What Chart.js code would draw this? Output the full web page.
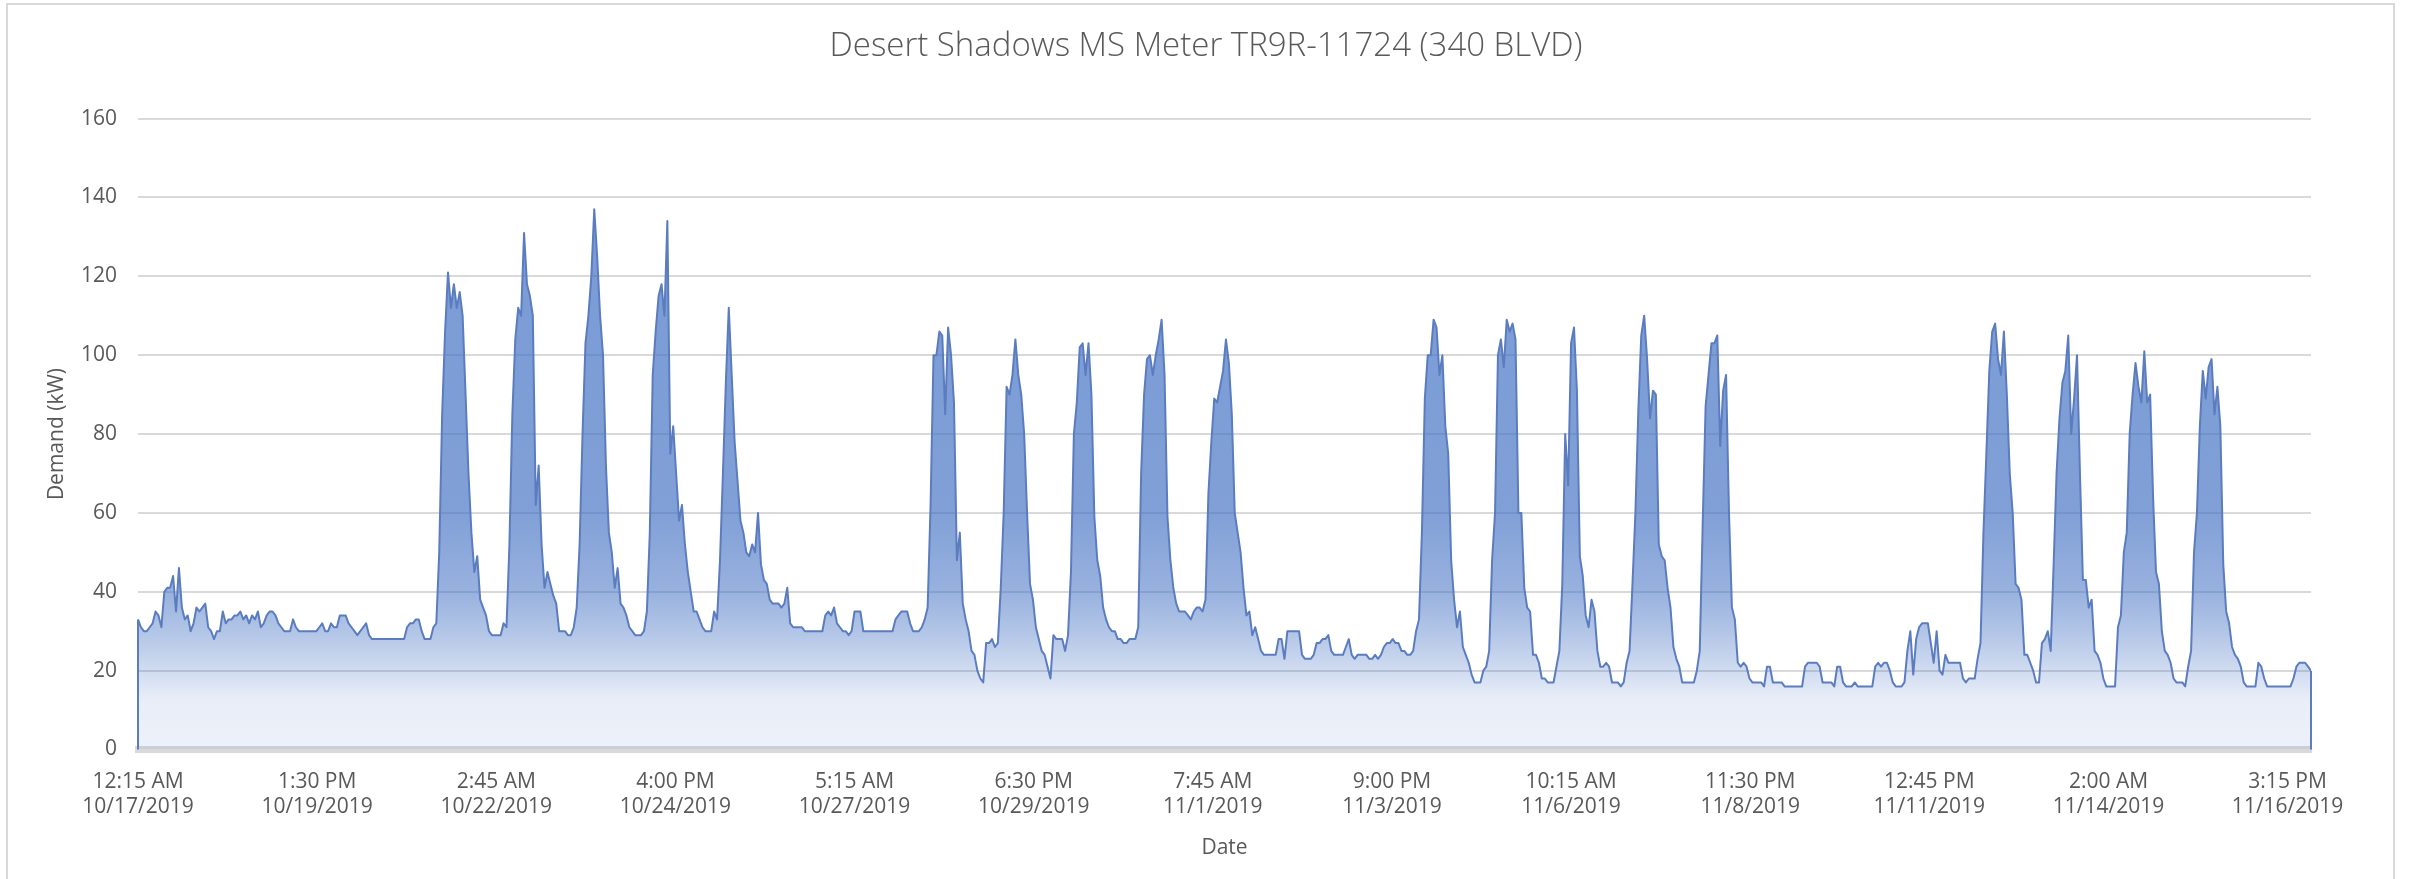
<!DOCTYPE html>
<html><head><meta charset="utf-8">
<script src="https://cdn.jsdelivr.net/npm/chart.js@4.4.1/dist/chart.umd.min.js"></script>
<style>html,body{margin:0;padding:0;background:#fff;overflow:hidden}#wrap{width:2412px;height:879px}</style>
</head><body><div id="wrap"><canvas id="c" width="2412" height="879"></canvas></div>
<script>
const chartTitle = 'Desert Shadows MS Meter TR9R-11724 (340 BLVD)';
const yAxisTitle = 'Demand (kW)';
const xAxisTitle = 'Date';
const tickTimes = ['12:15 AM','1:30 PM','2:45 AM','4:00 PM','5:15 AM','6:30 PM','7:45 AM','9:00 PM','10:15 AM','11:30 PM','12:45 PM','2:00 AM','3:15 PM'];
const tickDates = ['10/17/2019','10/19/2019','10/22/2019','10/24/2019','10/27/2019','10/29/2019','11/1/2019','11/3/2019','11/6/2019','11/8/2019','11/11/2019','11/14/2019','11/16/2019'];
const tickIndex = [0,245,490,735,980,1225,1470,1715,1960,2205,2450,2695,2940]; // 15-minute reading number of each labelled category
const readingsPerHour = 4;

// Demand (kW), one value per hour of each day
const oct17 = [33,31,30,30,31,32,35,34,31,40,41,41,44,35,46,36,33,34,30,32,36,35,36,37];
const oct18 = [31,30,28,30,30,35,32,33,33,34,34,35,33,34,32,34,33,35,31,32,34,35,35,34];
const oct19 = [32,31,30,30,30,33,31,30,30,30,30,30,30,30,31,32,30,30,32,31,31,34,34,34];
const oct20 = [32,31,30,29,30,31,32,29,28,28,28,28,28,28,28,28,28,28,28,28,31,32,32,33];
const oct21 = [33,30,28,28,28,31,32,50,85,106,121,112,118,112,116,110,90,70,55,45,49,38,36,34];
const oct22 = [30,29,29,29,29,32,31,52,85,104,112,110,131,118,115,110,62,72,52,41,45,42,39,37];
const oct23 = [30,30,30,29,29,31,36,52,80,103,110,120,137,125,110,100,72,55,50,41,46,37,36,34];
const oct24 = [31,30,29,29,29,30,35,55,95,106,115,118,110,134,75,82,70,58,62,52,45,40,35,35];
const oct25 = [33,31,30,30,30,35,33,48,70,93,112,95,78,68,58,55,50,49,52,50,60,47,43,42];
const oct26 = [38,37,37,37,36,37,41,32,31,31,31,31,30,30,30,30,30,30,30,34,35,34,36,32];
const oct27 = [31,30,30,29,30,35,35,35,30,30,30,30,30,30,30,30,30,30,30,33,34,35,35,35];
const oct28 = [32,30,30,30,31,33,36,62,100,100,106,105,85,107,100,88,48,55,37,33,30,25,24,20];
const oct29 = [18,17,27,27,28,26,27,41,60,92,90,95,104,95,90,80,60,42,38,31,28,25,24,21];
const oct30 = [18,29,28,28,28,25,29,45,80,88,102,103,95,103,90,59,48,44,36,33,31,30,30,28];
const oct31 = [28,27,27,28,28,28,31,70,90,99,100,95,100,104,109,95,59,48,41,37,35,35,35,34];
const nov01 = [33,35,36,36,35,38,65,78,89,88,92,96,104,98,85,60,55,50,41,34,35,29,31,28];
const nov02 = [25,24,24,24,24,24,28,28,23,30,30,30,30,30,24,23,23,23,24,27,27,28,28,29];
const nov03 = [25,24,24,24,24,26,28,24,23,24,24,24,24,23,23,24,23,24,26,27,27,28,27,27];
const nov04 = [25,25,24,24,25,30,33,55,89,100,100,109,107,95,100,82,75,48,38,31,35,26,24,22];
const nov05 = [19,17,17,17,20,21,25,48,60,100,104,97,109,106,108,104,60,60,41,36,35,24,24,22];
const nov06 = [18,18,17,17,17,21,25,42,80,67,103,107,91,49,44,34,31,38,35,25,21,21,22,21];
const nov07 = [17,17,17,16,17,22,25,42,60,86,105,110,99,84,91,90,52,49,48,41,36,26,23,21];
const nov08 = [17,17,17,17,17,20,25,57,87,95,103,103,105,77,91,95,60,36,33,22,21,22,21,18];
const nov09 = [17,17,17,17,16,21,21,17,17,17,17,16,16,16,16,16,16,16,21,22,22,22,22,21];
const nov10 = [17,17,17,17,16,21,21,17,16,16,16,17,16,16,16,16,16,16,21,22,21,22,22,20];
const nov11 = [17,16,16,16,17,25,30,19,28,31,32,32,32,27,22,30,20,19,24,22,22,22,22,22];
const nov12 = [18,17,18,18,18,23,27,55,75,96,106,108,99,95,106,90,70,60,42,41,38,24,24,22];
const nov13 = [20,17,17,27,28,30,25,47,70,84,93,96,105,80,89,100,70,43,43,36,38,25,24,22];
const nov14 = [18,16,16,16,16,31,34,50,55,80,90,98,92,88,101,88,90,64,45,42,30,25,24,22];
const nov15 = [18,17,17,17,16,21,25,50,60,82,96,89,97,99,85,92,82,47,35,32,26,24,23,21];
const nov16 = [17,16,16,16,16,22,21,18,16,16,16,16,16,16,16,16,16,18,21,22,22,22,21,20];

const demand = [].concat(oct17,oct18,oct19,oct20,oct21,oct22,oct23,oct24,oct25,oct26,oct27,oct28,oct29,oct30,oct31,
  nov01,nov02,nov03,nov04,nov05,nov06,nov07,nov08,nov09,nov10,nov11,nov12,nov13,nov14,nov15,nov16);
const points = demand.map((v, i) => ({x: i * readingsPerHour, y: v}));

const FONT = "'Open Sans', 'Noto Sans', sans-serif";
const TEXT = '#595959';
const LINE = '#5b7cbf';

function areaFill(context) {
  const {ctx, chartArea} = context.chart;
  if (!chartArea) return 'rgba(68,114,196,0.4)';
  const g = ctx.createLinearGradient(0, chartArea.top, 0, chartArea.bottom);
  g.addColorStop(0, 'rgba(68,114,196,0.72)');
  g.addColorStop(0.62, 'rgba(68,114,196,0.68)');
  g.addColorStop(0.75, 'rgba(68,114,196,0.55)');
  g.addColorStop(0.81, 'rgba(68,114,196,0.42)');
  g.addColorStop(0.875, 'rgba(68,114,196,0.25)');
  g.addColorStop(0.92, 'rgba(68,114,196,0.12)');
  g.addColorStop(1, 'rgba(68,114,196,0.10)');
  return g;
}

const frame = {
  id: 'frame',
  beforeDraw(chart) {
    const {ctx, width, height} = chart;
    ctx.save();
    ctx.fillStyle = '#ffffff';
    ctx.fillRect(0, 0, width, height);
    ctx.strokeStyle = '#d9d9d9';
    ctx.lineWidth = 2;
    ctx.strokeRect(7, 4, 2387, height + 20);
    ctx.restore();
  }
};
const areaEdges = {
  id: 'areaEdges',
  afterDatasetsDraw(chart) {
    const pts = chart.getDatasetMeta(0).data;
    if (!pts.length) return;
    const y0 = chart.scales.y.getPixelForValue(0);
    const {ctx} = chart;
    ctx.save();
    ctx.strokeStyle = LINE;
    ctx.lineWidth = 2;
    [pts[0], pts[pts.length - 1]].forEach(p => {
      ctx.beginPath(); ctx.moveTo(p.x, p.y); ctx.lineTo(p.x, y0); ctx.stroke();
    });
    ctx.restore();
  }
};

new Chart(document.getElementById('c'), {
  type: 'line',
  data: {datasets: [{
    label: yAxisTitle, data: points, borderColor: LINE, borderWidth: 2, pointRadius: 0,
    fill: 'origin', backgroundColor: areaFill, tension: 0, borderJoinStyle: 'round'
  }]},
  options: {
    responsive: false, animation: false, events: [],
    layout: {padding: 0},
    plugins: {
      legend: {display: false}, tooltip: {enabled: false},
      title: {display: true, text: chartTitle, color: TEXT,
        font: {family: FONT, size: 33, weight: 300}, padding: {top: 27, bottom: 52}}
    },
    scales: {
      x: {
        type: 'linear', min: 0, max: (demand.length - 1) * readingsPerHour,
        afterBuildTicks: s => { s.ticks = tickIndex.map(v => ({value: v})); },
        afterFit: s => { s.height = 129.5; },
        grid: {display: false, drawTicks: false},
        border: {display: true, color: '#d9d9d9', width: 7},
        ticks: {autoSkip: false, maxRotation: 0, minRotation: 0, padding: 20, color: TEXT,
          font: {family: FONT, size: 21}, callback: (v, i) => [tickTimes[i], tickDates[i]]},
        title: {display: true, text: xAxisTitle, color: TEXT, font: {family: FONT, size: 21},
          padding: {top: 0, bottom: 18}}
      },
      y: {
        min: 0, max: 160,
        afterFit: s => { s.width = 138; },
        ticks: {stepSize: 20, padding: 21, color: TEXT, font: {family: FONT, size: 21}},
        grid: {color: '#d9d9d9', lineWidth: 2, drawTicks: false},
        border: {display: false},
        title: {display: true, text: yAxisTitle, color: TEXT, font: {family: FONT, size: 21},
          padding: {top: 44, bottom: 0}}
      },
      gap: {
        position: 'right', min: 0, max: 1,
        afterFit: s => { s.width = 101; },
        grid: {display: false, drawTicks: false},
        border: {display: false},
        ticks: {display: false}
      }
    }
  },
  plugins: [frame, areaEdges]
});
</script>
</body></html>
